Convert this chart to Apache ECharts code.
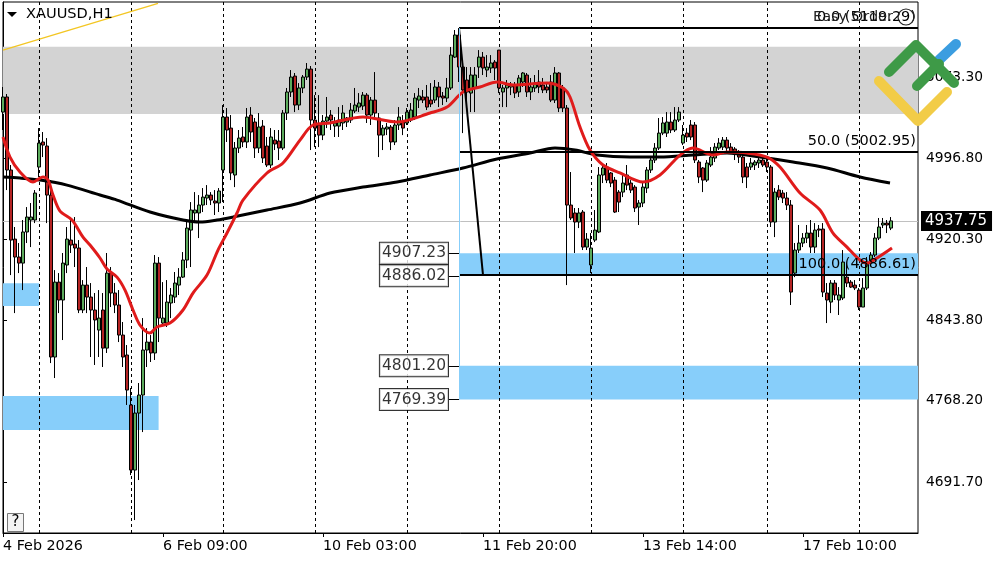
<!DOCTYPE html>
<html><head><meta charset="utf-8">
<script src="https://cdn.jsdelivr.net/npm/echarts@6/dist/echarts.min.js"></script>
<style>html,body{margin:0;padding:0;background:#fff}#c{width:1000px;height:562px}</style>
</head><body><div id="c"></div>
<script>
// ---------- DATA ----------
// hourly bars, XAUUSD H1, [open, close, low, high]
const ohlc = [
[5040.3,5054.5,5023.4,5063.9],[5054.5,4985.7,4966.8,5057.3],[4985.7,4919.7,4886.7,4990.4],[4920.6,4903.7,4850.9,4932.0],
[4903.7,4898.0,4888.6,4916.9],[4898.0,4927.3,4872.6,4938.6],[4927.3,4941.4,4916.9,4950.8],[4938.6,4941.4,4913.1,4954.6],
[4938.6,4964.0,4935.7,4966.8],[4988.5,5011.1,4979.1,5025.2],[5012.1,5009.2,4997.9,5021.5],[5008.3,4962.1,4935.7,5015.8],
[4962.1,4809.5,4803.8,4976.2],[4809.5,4880.1,4789.7,4891.4],[4880.1,4863.2,4850.9,4888.6],[4863.2,4898.0,4825.5,4907.5],
[4896.2,4920.6,4888.6,4932.0],[4919.7,4915.0,4907.5,4941.4],[4915.9,4912.2,4894.3,4941.4],[4912.2,4853.8,4850.9,4919.7],
[4853.8,4877.3,4850.9,4882.0],[4877.3,4866.0,4850.9,4894.3],[4866.0,4853.8,4809.5,4879.2],[4853.8,4844.4,4802.0,4869.8],
[4834.9,4846.2,4809.5,4872.6],[4853.8,4817.9,4800.1,4869.8],[4817.9,4888.6,4813.3,4907.5],[4888.6,4869.8,4856.6,4894.3],
[4869.8,4858.5,4850.9,4879.2],[4858.5,4830.2,4823.6,4872.6],[4830.2,4809.5,4800.1,4842.5],[4811.4,4778.4,4764.3,4820.8],
[4764.3,4703.0,4698.3,4780.3],[4703.0,4756.7,4655.9,4764.3],[4756.7,4773.7,4693.6,4785.0],[4773.7,4816.1,4738.8,4846.2],
[4816.1,4823.6,4800.1,4836.8],[4823.6,4813.3,4804.8,4830.2],[4813.3,4898.0,4806.7,4905.6],[4898.0,4846.2,4823.6,4903.7],
[4841.5,4846.2,4839.6,4880.1],[4841.5,4861.3,4837.8,4882.0],[4860.4,4867.9,4846.2,4874.5],[4866.0,4879.2,4860.4,4889.6],
[4877.3,4884.8,4867.9,4893.3],[4884.8,4900.9,4883.9,4908.4],[4900.9,4931.0,4893.3,4936.7],[4929.1,4948.0,4894.3,4955.5],
[4945.2,4948.0,4935.7,4964.9],[4945.2,4952.7,4921.6,4962.1],[4952.7,4960.2,4946.1,4968.7],[4959.3,4962.1,4952.7,4971.5],
[4962.1,4957.4,4952.7,4964.9],[4956.5,4954.6,4943.3,4966.8],[4954.6,4965.9,4946.1,4968.7],[4985.7,5035.6,4955.5,5046.9],
[5035.6,5023.4,5012.1,5044.1],[5025.2,4982.9,4976.2,5037.5],[4981.0,5006.4,4969.6,5012.1],[5006.4,5015.8,5001.7,5023.4],
[5016.8,5012.1,5007.3,5026.2],[5012.1,5035.6,5006.4,5044.1],[5037.5,5021.5,5012.1,5045.0],[5030.9,5006.4,4997.0,5034.7],
[5006.4,5026.2,5001.7,5039.4],[5027.1,4997.0,4992.3,5032.8],[5008.3,4990.4,4988.5,5016.8],[4990.4,5016.8,4987.6,5025.2],
[5013.9,5010.2,5004.5,5023.4],[5013.0,5006.4,4995.1,5023.4],[5006.4,5039.4,5004.5,5042.2],[5039.4,5059.2,5032.8,5063.0],
[5059.2,5073.3,5054.5,5079.9],[5074.2,5046.9,5040.3,5077.1],[5046.9,5063.0,5042.2,5067.6],[5063.0,5073.3,5058.2,5075.2],
[5073.3,5080.8,5070.5,5086.5],[5080.8,5032.8,5004.5,5083.7],[5032.8,5025.2,5007.3,5056.3],[5028.1,5018.6,5007.3,5056.3],
[5018.6,5031.8,5013.9,5037.5],[5031.8,5035.6,5025.2,5054.5],[5037.5,5032.8,5023.4,5042.2],[5027.1,5030.0,5016.8,5035.6],
[5027.1,5032.8,5016.8,5045.0],[5030.0,5039.4,5023.4,5046.9],[5030.9,5034.7,5026.2,5035.6],[5032.8,5042.2,5030.0,5048.8],
[5041.3,5046.9,5039.4,5063.0],[5045.0,5048.8,5040.3,5058.2],[5046.0,5056.3,5042.2,5059.2],[5056.3,5037.5,5030.0,5058.2],
[5037.5,5051.6,5028.1,5054.5],[5051.6,5039.4,5032.8,5078.0],[5034.7,5018.6,4997.9,5039.4],[5018.6,5025.2,5004.5,5028.1],
[5024.3,5026.2,5018.6,5030.0],[5026.2,5012.1,5004.5,5028.1],[5012.1,5028.1,5009.2,5032.8],[5028.1,5035.6,5023.4,5045.0],
[5030.9,5025.2,5018.6,5037.5],[5030.0,5040.3,5028.1,5044.1],[5032.8,5042.2,5030.9,5048.8],[5035.6,5053.5,5032.8,5058.2],
[5051.6,5055.4,5044.1,5063.0],[5054.5,5051.6,5048.8,5061.1],[5054.5,5045.0,5042.2,5065.8],[5051.6,5047.9,5045.0,5067.6],
[5051.6,5063.9,5048.8,5070.5],[5063.9,5054.5,5045.0,5068.6],[5055.4,5053.5,5046.9,5059.2],[5053.5,5063.0,5049.7,5072.4],
[5063.0,5094.0,5061.1,5101.6],[5092.1,5112.9,5091.2,5117.6],[5112.9,5082.7,5068.6,5119.29],[5082.7,5061.1,5020.5,5089.3],
[5070.5,5059.2,5042.2,5082.7],[5058.2,5075.2,5040.3,5082.7],[5063.0,5075.2,5040.3,5082.7],[5082.7,5092.1,5072.4,5098.7],
[5092.1,5081.8,5075.2,5096.9],[5079.9,5082.7,5073.3,5094.0],[5081.8,5086.5,5077.1,5094.0],[5087.4,5081.8,5070.5,5089.3],
[5098.7,5063.0,5058.2,5098.7],[5059.2,5063.0,5045.0,5065.8],[5063.0,5065.8,5045.0,5070.5],[5063.9,5065.8,5056.3,5068.6],
[5065.8,5058.2,5053.5,5068.6],[5059.2,5072.4,5054.5,5075.2],[5068.6,5077.1,5063.9,5078.0],[5075.2,5059.2,5054.5,5077.1],
[5059.2,5063.9,5051.6,5072.4],[5063.0,5067.6,5059.2,5075.2],[5068.6,5063.9,5058.2,5079.9],[5065.8,5061.1,5058.2,5072.4],
[5063.9,5061.1,5058.2,5068.6],[5068.6,5051.6,5049.7,5075.2],[5051.6,5077.1,5048.8,5082.7],[5077.1,5044.1,5040.3,5078.0],
[5063.0,5044.1,5040.3,5065.8],[5044.1,4952.7,4877.3,5046.9],[4952.7,4940.5,4938.6,4983.8],[4945.2,4936.7,4907.5,4949.9],
[4936.7,4945.2,4931.0,4949.9],[4946.1,4913.1,4910.3,4948.0],[4913.1,4920.6,4910.3,4926.3],[4896.2,4912.2,4888.6,4926.3],
[4919.7,4929.1,4917.8,4948.0],[4927.3,4981.0,4926.3,4988.5],[4981.0,4987.6,4973.4,4992.3],[4988.5,4976.2,4973.4,4992.3],
[4982.9,4973.4,4969.6,4983.8],[4976.2,4946.1,4945.2,4979.1],[4964.9,4955.5,4946.1,4966.8],[4964.9,4973.4,4960.2,4981.0],
[4981.0,4971.5,4966.8,4990.4],[4973.4,4966.8,4964.0,4976.2],[4969.6,4949.9,4946.1,4971.5],[4950.8,4954.6,4933.9,4957.4],
[4954.6,4969.6,4950.8,4974.4],[4968.7,4985.7,4964.0,4988.5],[4985.7,4995.1,4982.9,4997.9],[4995.1,5006.4,4992.3,5011.1],
[5006.4,5020.5,5004.5,5034.7],[5020.5,5030.0,5018.6,5035.6],[5020.5,5030.9,5016.8,5040.3],[5030.9,5023.4,5020.5,5040.3],
[5023.4,5032.8,5021.5,5045.0],[5032.8,5040.3,5030.9,5045.0],[5011.1,5018.6,5009.2,5028.1],[5020.5,5016.8,5012.1,5025.2],
[5028.1,5016.8,5013.9,5032.8],[5028.1,4995.1,4992.3,5030.9],[4993.2,4979.1,4973.4,4995.1],[4987.6,4976.2,4964.9,4988.5],
[4976.2,4992.3,4974.4,4995.1],[4990.4,4997.9,4988.5,5007.3],[4997.0,5007.3,4993.2,5011.1],[5006.4,5011.1,5004.5,5015.8],
[5007.3,5013.9,5004.5,5016.8],[5013.9,5006.4,5002.6,5016.8],[5007.3,5002.6,5001.7,5011.1],[5005.5,5001.7,4995.1,5007.3],
[5002.6,4997.9,4992.3,5004.5],[4997.9,4979.1,4973.4,5001.7],[4988.5,4979.1,4968.7,4992.3],[4988.5,4992.3,4985.7,4997.0],
[4990.4,4993.2,4985.7,4995.1],[4992.3,4995.1,4987.6,4997.9],[4995.1,4990.4,4988.5,4997.9],[4993.2,4988.5,4983.8,4997.0],
[4988.5,4936.7,4932.0,4990.4],[4936.7,4964.9,4922.5,4968.7],[4966.8,4960.2,4957.4,4971.5],[4964.0,4959.3,4954.6,4966.8],
[4959.3,4952.7,4948.0,4964.9],[4952.7,4870.7,4858.5,4957.4],[4888.6,4910.3,4884.8,4916.9],[4910.3,4916.9,4907.5,4933.9],
[4916.9,4921.6,4913.1,4926.3],[4921.6,4926.3,4916.9,4933.9],[4926.3,4913.1,4907.5,4938.6],[4913.1,4929.1,4907.5,4935.7],
[4930.1,4929.1,4922.5,4933.9],[4930.1,4870.7,4866.0,4935.7],[4869.8,4863.2,4841.5,4879.2],[4861.3,4879.2,4850.9,4882.0],
[4879.2,4867.9,4863.2,4882.0],[4863.2,4867.9,4849.1,4875.4],[4865.1,4899.0,4863.2,4910.3],[4884.8,4879.2,4875.4,4898.0],
[4880.1,4875.4,4874.5,4882.0],[4877.3,4874.5,4872.6,4882.0],[4872.6,4856.6,4853.8,4874.5],[4856.6,4874.5,4856.6,4883.9],
[4874.5,4899.0,4872.6,4903.7],[4899.0,4905.6,4896.2,4908.4],[4905.6,4921.6,4903.7,4926.3],[4921.6,4932.0,4919.7,4940.5],
[4933.9,4935.7,4931.0,4940.5],[4935.7,4933.9,4926.3,4938.6],[4931.0,4937.75,4929.1,4941.4]
];
// fast MA (red) read at bar positions: [bar, price]
const maFast = [[0,5016.8],[1.75,4997.9],[4.25,4983.8],[7.5,4974.4],[10,4979.1],[11.25,4976.2],[12.5,4962.1],[14.25,4947.0],
[17.25,4938.6],[20,4922.5],[21.75,4915.0],[24.25,4902.8],[26,4892.4],[28.5,4884.8],[30.5,4872.6],[32.5,4853.8],[34.25,4839.6],
[36.75,4832.1],[38.5,4837.8],[41.75,4841.5],[45,4853.8],[47.5,4869.8],[51,4886.7],[53.75,4910.3],[56,4926.3],[58.5,4945.2],
[60,4957.4],[66,4982.9],[70,4992.3],[74.25,5013.9],[77.5,5028.1],[81.75,5030.0],[90,5035.6],[98.5,5030.9],[106.75,5039.4],
[111,5045.0],[115,5059.2],[119.25,5063.9],[123.5,5068.6],[127.5,5065.8],[136,5067.6],[140,5063.0],[141.75,5054.5],
[144.25,5026.2],[146.75,5004.5],[150,4990.4],[154.25,4982.9],[160,4974.4],[164.25,4981.0],[169.25,4999.8],[172.5,5006.4],
[177.5,4999.8],[181,5002.6],[186,5001.7],[191,4997.9],[194.25,4988.5],[199.25,4964.0],[204.25,4948.0],[207.5,4926.3],
[211,4913.1],[214.25,4900.9],[216,4898.0],[218.5,4902.8],[222.25,4912.2]];
// slow MA (black)
const maSlow = [[0,4979.1],[4.25,4978.1],[9.25,4976.2],[16,4971.5],[24.25,4962.1],[28.5,4957.4],[36.75,4946.1],[45,4938.6],
[49.25,4936.7],[53.5,4938.6],[57.5,4941.4],[66,4948.0],[74.25,4954.6],[81.75,4964.0],[90,4969.6],[98.5,4974.4],[106.75,4981.0],
[115,4987.6],[123.5,4996.1],[131.75,5001.7],[138,5006.4],[143,5004.5],[148.5,4999.8],[156.75,4997.9],[164.25,4997.9],
[172.5,4999.8],[181,5001.7],[189.25,4997.9],[197.5,4993.2],[206,4987.6],[214.25,4979.1],[221.75,4973.4]];

const xTickBars = [0, 40, 80, 120, 160, 200];
const xTickLabels = ['4 Feb 2026', '6 Feb 09:00', '10 Feb 03:00', '11 Feb 20:00', '13 Feb 14:00', '17 Feb 10:00'];
const daySeparators = [9, 32, 55, 78, 101, 124, 147, 170, 191, 214];
const yTicks = [5073.30, 4996.80, 4920.30, 4843.80, 4768.20, 4691.70];
const grayZone = [5101.9, 5038.4];
// [fromBar, toBar, top, bottom]
const blueZones = [[0, 9, 4878.9, 4857.5], [0, 38.9, 4772.7, 4740.7], [114, 228.75, 4907.23, 4886.02], [114, 228.75, 4801.20, 4769.39]];
const fibHigh = 5119.29, fibLow = 4886.61, fibFromBar = 114, fibToBar = 120;
const fibLevels = [0, 50, 100];
const priceBoxes = [4907.23, 4886.02, 4801.20, 4769.39];
const lastPrice = 4937.75;
const trendLine = [[0, 5098.7], [38.75, 5142.7]];
const X_MIN = 0, X_MAX = 228.75, Y_MIN = 4643.7, Y_MAX = 5144.0;

// ---------- CHART ----------
const FONT = 'DejaVu Sans';
const chart = echarts.init(document.getElementById('c'), null, {renderer: 'canvas'});

const zoneAreas = [[{xAxis: X_MIN, yAxis: grayZone[0], itemStyle: {color: '#d3d3d3'}}, {xAxis: X_MAX, yAxis: grayZone[1]}]]
  .concat(blueZones.map(z => [{xAxis: z[0], yAxis: z[2], itemStyle: {color: '#87cefa'}}, {xAxis: z[1], yAxis: z[3]}]));

const fibLines = fibLevels.map(l => {
  const p = fibHigh - (fibHigh - fibLow) * l / 100;
  return [{coord: [fibFromBar, p], label: {show: true, formatter: l.toFixed(1) + ' (' + p.toFixed(2) + ')'}},
          {coord: [X_MAX, p]}];
});
const extraLines = [
  [{coord: [fibFromBar, fibHigh], lineStyle: {color: '#000', width: 2}}, {coord: [fibToBar, fibLow]}],
  [{coord: [fibFromBar, fibHigh], lineStyle: {color: '#87cefa', width: 1}}, {coord: [fibFromBar, priceBoxes[3]]}]
].concat(priceBoxes.map(p => [{coord: [111.5, p], lineStyle: {color: '#000', width: 1}}, {coord: [fibFromBar, p]}]));

const option = {
  animation: false,
  backgroundColor: '#fff',
  textStyle: {fontFamily: FONT},
  grid: {left: 3, right: 82, top: 2, bottom: 29, show: true, borderColor: '#000', borderWidth: 1, backgroundColor: 'transparent'},
  xAxis: {
    type: 'value', min: X_MIN, max: X_MAX,
    axisLine: {show: true, lineStyle: {color: '#000'}},
    axisTick: {show: true, customValues: xTickBars, length: 4, lineStyle: {color: '#000'}},
    axisLabel: {customValues: xTickBars, align: 'left', margin: 6, color: '#000', fontSize: 14.3, fontFamily: FONT,
      formatter: v => xTickLabels[xTickBars.indexOf(v)] || ''},
    splitLine: {show: false}
  },
  yAxis: {
    type: 'value', position: 'right', min: Y_MIN, max: Y_MAX, scale: true,
    axisLine: {show: true, lineStyle: {color: '#000'}},
    axisTick: {show: true, customValues: yTicks, length: 4, lineStyle: {color: '#000'}},
    axisLabel: {customValues: yTicks, margin: 8, color: '#000', fontSize: 13.8, fontFamily: FONT, formatter: v => v.toFixed(2)},
    splitLine: {show: false}
  },
  series: [
    { // zones + day separators
      type: 'line', data: [], z: 1, silent: true,
      markArea: {silent: true, z: 1, data: zoneAreas},
      markLine: {silent: true, z: 1, symbol: 'none', label: {show: false},
        lineStyle: {color: '#000', type: [3, 3], width: 1},
        data: daySeparators.map(b => ({xAxis: b}))}
    },
    { // current price line
      type: 'line', data: [], z: 2, silent: true,
      markLine: {silent: true, z: 2, symbol: 'none',
        lineStyle: {color: '#c0c0c0', type: 'solid', width: 1},
        label: {show: true, position: 'end', distance: 3, formatter: lastPrice.toFixed(2), color: '#fff',
          backgroundColor: '#000', padding: [3, 5, 2, 4], fontSize: 15, fontFamily: FONT},
        data: [{yAxis: lastPrice}]}
    },
    {
      type: 'candlestick', z: 3, barWidth: 3, clip: true,
      data: ohlc.map((d, i) => [i, d[0], d[1], d[2], d[3]]),
      itemStyle: {color: '#5cab5c', color0: '#b52424', borderColor: '#000', borderColor0: '#000', borderWidth: 1}
    },
    {type: 'line', z: 4, data: maSlow, smooth: 0.3, showSymbol: false, clip: true, lineStyle: {color: '#000', width: 3}},
    {type: 'line', z: 4, data: maFast, smooth: 0.3, showSymbol: false, clip: true, lineStyle: {color: '#e01b1b', width: 3}},
    {type: 'line', z: 4, data: trendLine, showSymbol: false, clip: true, lineStyle: {color: '#f3c623', width: 1.3}},
    { // fibonacci
      type: 'line', data: [], z: 5, silent: true,
      markLine: {silent: true, z: 5, symbol: 'none',
        lineStyle: {color: '#000', type: 'solid', width: 2},
        label: {show: false, position: 'insideEndTop', distance: [2, 3], color: '#000', fontSize: 14.5, fontFamily: FONT},
        data: fibLines.concat(extraLines)}
    },
    { // price boxes
      type: 'scatter', z: 6, symbolSize: 2, itemStyle: {color: 'rgba(0,0,0,0)'}, silent: true,
      data: priceBoxes.map(p => [111.5, p]),
      label: {show: true, position: 'left', distance: 0, formatter: p => p.value[1].toFixed(2), color: '#000',
        fontSize: 15.5, fontFamily: FONT, backgroundColor: '#fff', borderColor: '#000', borderWidth: 1, padding: [3, 2, 2, 2]}
    }
  ],
  graphic: [
    {type: 'polygon', shape: {points: [[7, 12], [17, 12], [12, 17]]}, style: {fill: '#000'}, z: 10},
    {type: 'text', left: 26, top: 7, style: {text: 'XAUUSD,H1', font: '14.6px "DejaVu Sans"', fill: '#000'}, z: 10},
    {type: 'rect', shape: {x: 7.5, y: 513.5, width: 16, height: 18}, style: {fill: '#f4f4f4', stroke: '#777', lineWidth: 1}, z: 10},
    {type: 'text', x: 15.5, y: 522.5, style: {text: '?', font: '15px "DejaVu Sans"', fill: '#000', align: 'center', verticalAlign: 'middle'}, z: 11},
    {type: 'text', x: 813, y: 17, style: {text: 'Easy Order', font: '14.5px "DejaVu Sans"', fill: '#222', verticalAlign: 'middle'}, z: 10},
    {type: 'circle', shape: {cx: 906, cy: 17, r: 8}, style: {fill: 'none', stroke: '#222', lineWidth: 1.2}, z: 10},
    {type: 'polyline', shape: {points: [[879, 81], [918, 121], [947, 92]]}, style: {stroke: '#f2cc47', lineWidth: 10, lineCap: 'round', lineJoin: 'round', fill: 'none'}, z: 12},
    {type: 'polyline', shape: {points: [[889, 72], [916, 45], [954, 83]]}, style: {stroke: '#3e9a47', lineWidth: 10, lineCap: 'round', lineJoin: 'round', fill: 'none'}, z: 13},
    {type: 'polyline', shape: {points: [[917, 86], [939, 64]]}, style: {stroke: '#3e9a47', lineWidth: 10, lineCap: 'round', fill: 'none'}, z: 13},
    {type: 'polyline', shape: {points: [[939, 60], [956, 44]]}, style: {stroke: '#3b9de0', lineWidth: 10, lineCap: 'round', fill: 'none'}, z: 12}
  ]
};
chart.setOption(option);
</script></body></html>
